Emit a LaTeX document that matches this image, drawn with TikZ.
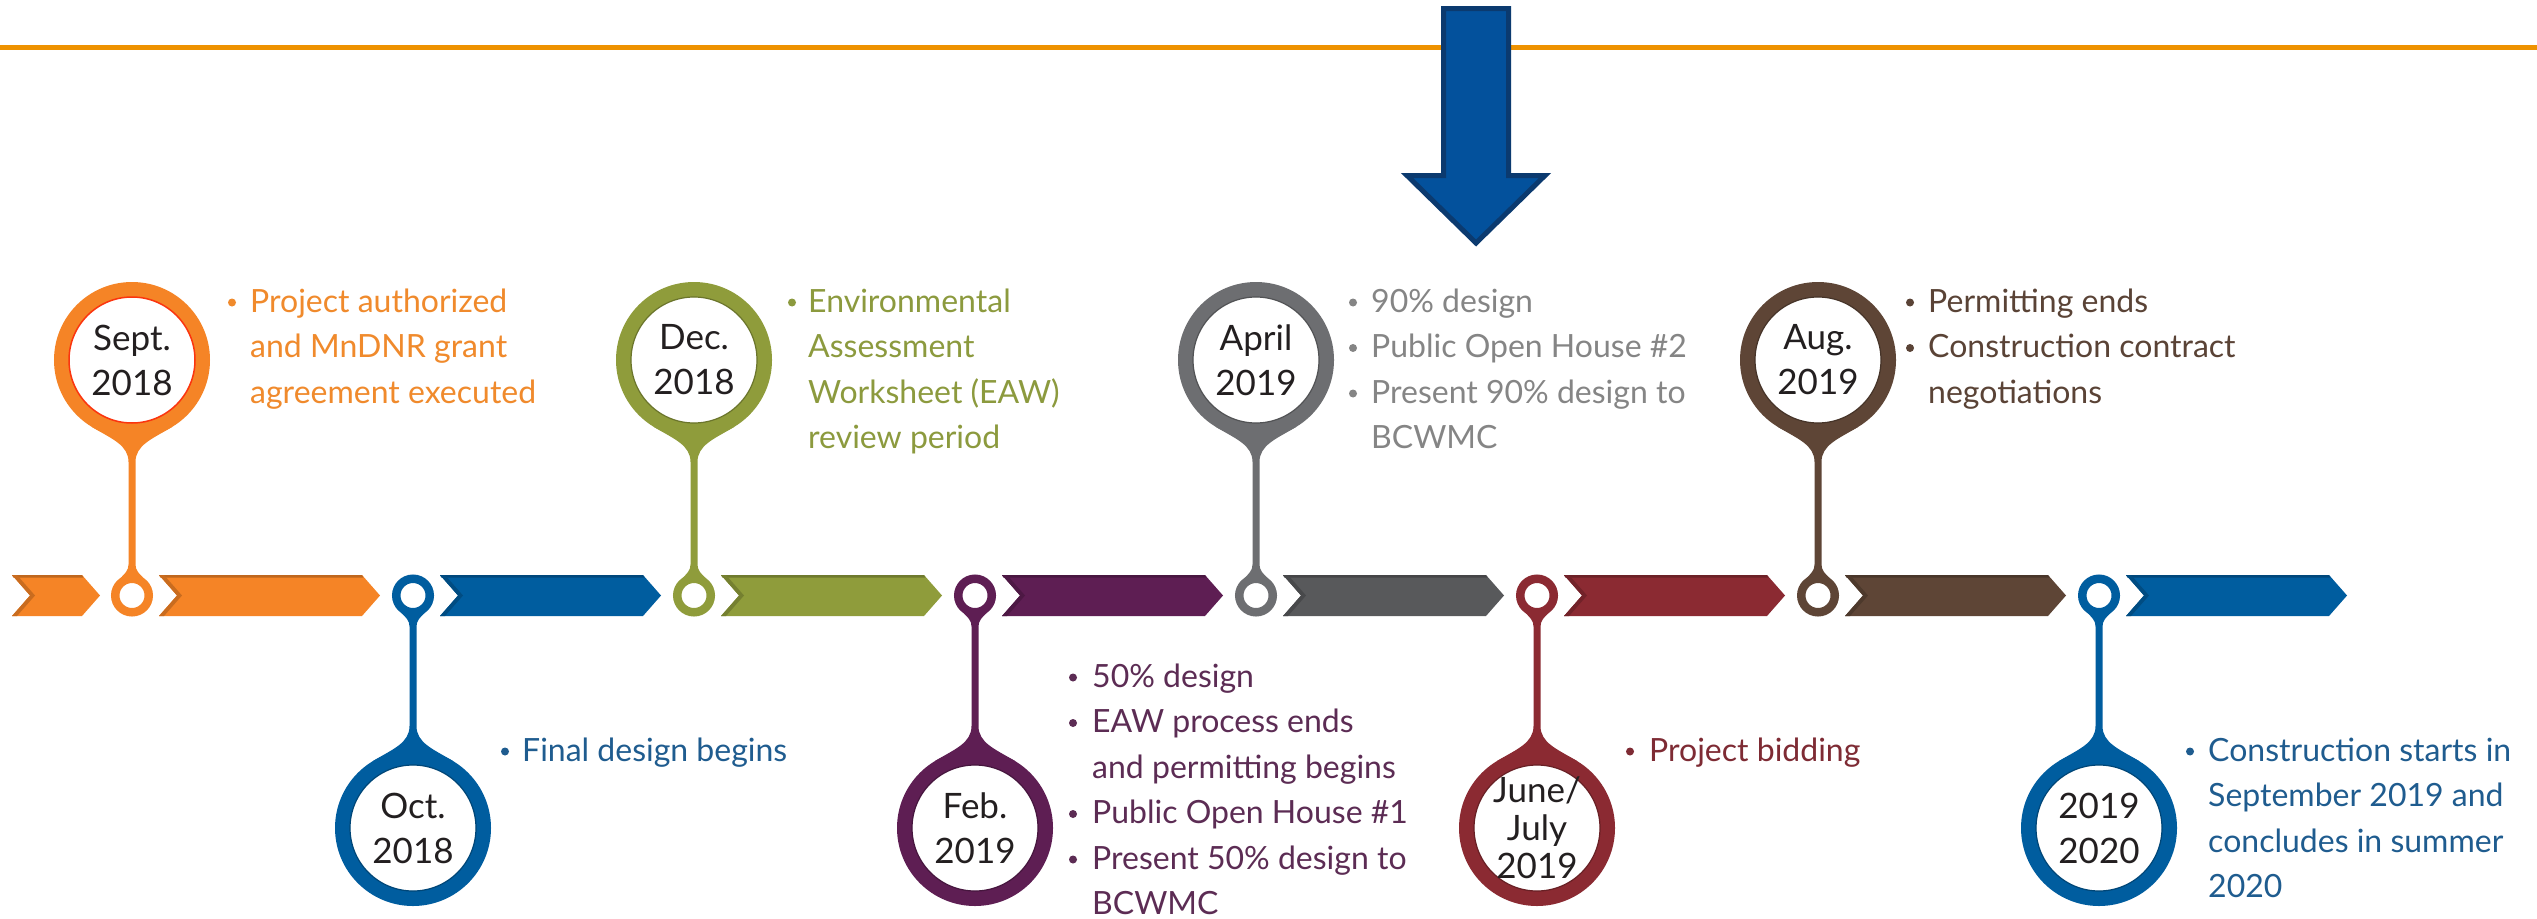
\documentclass[tikz,border=0pt]{standalone}
\usepackage{fontspec}
\setmainfont{Lato}
\usetikzlibrary{backgrounds,calc}
\definecolor{lineorange}{HTML}{EE9200}
\definecolor{arrowfill}{HTML}{03519C}
\definecolor{arrowedge}{HTML}{0B3A6F}
\definecolor{corange}{HTML}{F58426}
\definecolor{cblue}{HTML}{005D9F}
\definecolor{cgreen}{HTML}{8F9C3B}
\definecolor{cpurple}{HTML}{5E1E53}
\definecolor{cgray}{HTML}{6D6E71}
\definecolor{cgraybar}{HTML}{58595B}
\definecolor{cred}{HTML}{8B2A32}
\definecolor{cbrown}{HTML}{5E4536}
\definecolor{torange}{HTML}{F08A2C}
\definecolor{tblue}{HTML}{1F5C8F}
\definecolor{tgreen}{HTML}{8C9A3E}
\definecolor{tpurple}{HTML}{5C2C54}
\definecolor{tgray}{HTML}{858585}
\definecolor{tred}{HTML}{7E2B34}
\definecolor{tbrown}{HTML}{5A4336}
\definecolor{labelc}{HTML}{231F20}
% chevron: #1 left x, #2 tip x, #3 colour
\newcommand\chevbar[3]{%
  \fill[#3] (#1,575) -- ({#2-18},575) -- (#2,595.5) -- ({#2-18},616) -- (#1,616) -- ({#1+18},595.5) -- cycle;
  \fill[#3!78!black] (#1,575) -- ({#2-18},575) -- ({#2-16.6},577.5) -- ({#1+1.4},577.5) -- cycle;
  \fill[#3!82!black] (#1,575) -- ({#1+18},595.5) -- (#1,616) -- ({#1+5},616) -- ({#1+23},595.5) -- ({#1+5},575) -- cycle;
}
% pin stem: #1 big-circle anchor, #2 dot anchor, #3 colour, #4 direction sign
\newcommand\pinstem[4]{%
  \fill[#3] ($(#1)+(-40,{-11*(#4)})$) .. controls ($(#1)+(-20,{1*(#4)})$) and ($(#1)+(-3.5,{7*(#4)})$) .. ($(#1)+(-3.5,{24*(#4)})$)
   -- ($(#2)+(-3.5,{-10*(#4)})$) .. controls ($(#2)+(-3.5,{-4*(#4)})$) and ($(#2)+(-7,{-1*(#4)})$) .. ($(#2)+(-12,{4*(#4)})$)
   -- ($(#2)+(12,{4*(#4)})$) .. controls ($(#2)+(7,{-1*(#4)})$) and ($(#2)+(3.5,{-4*(#4)})$) .. ($(#2)+(3.5,{-10*(#4)})$)
   -- ($(#1)+(3.5,{24*(#4)})$) .. controls ($(#1)+(3.5,{7*(#4)})$) and ($(#1)+(20,{1*(#4)})$) .. ($(#1)+(40,{-11*(#4)})$) -- cycle;}
% bullet: #1 colour, #2 x, #3 baseline
\newcommand\bul[3]{\fill[#1] (#2,{#3-9.5}) circle[radius=4];}
\begin{document}
\begin{tikzpicture}[x=1pt,y=-1pt,
  desc/.style={anchor=base west,inner sep=0pt,font=\fontsize{32}{40}\selectfont},
  bigring/.style={circle,line width=15pt,minimum size=141pt,inner sep=0pt,fill=white},
  dotring/.style={circle,line width=8.5pt,minimum size=33.5pt,inner sep=0pt,fill=white},
  datelbl/.style={align=center,inner sep=0pt,text=labelc,font=\fontsize{35}{45}\selectfont},
]
\useasboundingbox (0,0) rectangle (2537,918);
\begin{pgfonlayer}{background}
\fill[white] (0,0) rectangle (2537,918);
\end{pgfonlayer}

% top rule and arrow
\draw[lineorange,line width=5pt] (0,47) -- (2537,47);
\draw[arrowedge,fill=arrowfill,line width=5pt,line join=miter]
  (1443.5,8.5) -- (1508.5,8.5) -- (1508.5,175.5) -- (1545,175.5) -- (1476,243) -- (1407,175.5) -- (1443.5,175.5) -- cycle;

% chevrons
\chevbar{12}{100}{corange}
\chevbar{159}{380}{corange}
\chevbar{440}{661}{cblue}
\chevbar{721}{942}{cgreen}
\chevbar{1002}{1223}{cpurple}
\chevbar{1283}{1504}{cgraybar}
\chevbar{1564}{1785}{cred}
\chevbar{1845}{2066}{cbrown}
\chevbar{2126}{2347}{cblue}

% pins: big rings
\node[bigring,draw=corange] (sept) at (132,360) {};
\node[bigring,draw=cblue]   (oct)  at (413,828) {};
\node[bigring,draw=cgreen]  (dec)  at (694,360) {};
\node[bigring,draw=cpurple] (feb)  at (975,828) {};
\node[bigring,draw=cgray]   (apr)  at (1256,360) {};
\node[bigring,draw=cred]    (june) at (1537,828) {};
\node[bigring,draw=cbrown]  (aug)  at (1818,360) {};
\node[bigring,draw=cblue]   (yr)   at (2099,828) {};
% inner edge shading
\draw[red!60!corange,line width=1.5pt] (sept.center) circle[radius=63];
\draw[cblue!75!black,line width=1.2pt] (oct.center) circle[radius=63];
\draw[cgreen!75!black,line width=1.2pt] (dec.center) circle[radius=63];
\draw[cpurple!75!black,line width=1.2pt] (feb.center) circle[radius=63];
\draw[cgray!75!black,line width=1.2pt] (apr.center) circle[radius=63];
\draw[cred!75!black,line width=1.2pt] (june.center) circle[radius=63];
\draw[cbrown!75!black,line width=1.2pt] (aug.center) circle[radius=63];
\draw[cblue!75!black,line width=1.2pt] (yr.center) circle[radius=63];
% small rings on the bar
\node[dotring,draw=corange] (sept-dot) at (132,595.5) {};
\node[dotring,draw=cblue]   (oct-dot)  at (413,595.5) {};
\node[dotring,draw=cgreen]  (dec-dot)  at (694,595.5) {};
\node[dotring,draw=cpurple] (feb-dot)  at (975,595.5) {};
\node[dotring,draw=cgray]   (apr-dot)  at (1256,595.5) {};
\node[dotring,draw=cred]    (june-dot) at (1537,595.5) {};
\node[dotring,draw=cbrown]  (aug-dot)  at (1818,595.5) {};
\node[dotring,draw=cblue]   (yr-dot)   at (2099,595.5) {};

% stems
\begin{pgfonlayer}{background}
\pinstem{sept.south}{sept-dot.north}{corange}{1}
\pinstem{dec.south}{dec-dot.north}{cgreen}{1}
\pinstem{apr.south}{apr-dot.north}{cgray}{1}
\pinstem{aug.south}{aug-dot.north}{cbrown}{1}
\pinstem{oct.north}{oct-dot.south}{cblue}{-1}
\pinstem{feb.north}{feb-dot.south}{cpurple}{-1}
\pinstem{june.north}{june-dot.south}{cred}{-1}
\pinstem{yr.north}{yr-dot.south}{cblue}{-1}
\end{pgfonlayer}

% date labels
\node[datelbl] (sept-date) at (sept.center) {Sept.\\2018};
\node[datelbl] (oct-date)  at (oct.center)  {Oct.\\2018};
\node[datelbl] (dec-date)  at (dec.center)  {Dec.\\2018};
\node[datelbl] (feb-date)  at (feb.center)  {Feb.\\2019};
\node[datelbl] (apr-date)  at (apr.center)  {April\\2019};
\node[datelbl,font=\fontsize{35}{38}\selectfont] (june-date) at (june.center) {June/\\July\\2019};
\node[datelbl] (aug-date)  at (aug.center)  {Aug.\\2019};
\node[datelbl] (yr-date)   at (yr.center)   {2019\\2020};

% Sept text
\bul{torange}{232}{312}
\node[desc,text=torange] (sept-l1) at (250,312) {Project authorized};
\node[desc,text=torange] (sept-l2) at (250,357.5) {and MnDNR grant};
\node[desc,text=torange] (sept-l3) at (250,403) {agreement executed};
% Oct text
\bul{tblue}{505}{761}
\node[desc,text=tblue] (oct-l1) at (522,761) {Final design begins};
% Dec text
\bul{tgreen}{792}{312}
\node[desc,text=tgreen] (dec-l1) at (808,312) {Environmental};
\node[desc,text=tgreen] (dec-l2) at (808,357.5) {Assessment};
\node[desc,text=tgreen] (dec-l3) at (808,403) {Worksheet (EAW)};
\node[desc,text=tgreen] (dec-l4) at (808,448.5) {review period};
% Feb text
\bul{tpurple}{1073}{687}
\bul{tpurple}{1073}{732.5}
\bul{tpurple}{1073}{823.5}
\bul{tpurple}{1073}{869}
\node[desc,text=tpurple] (feb-l1) at (1092,687) {50\% design};
\node[desc,text=tpurple] (feb-l2) at (1092,732.5) {EAW process ends};
\node[desc,text=tpurple] (feb-l3) at (1092,778) {and permitting begins};
\node[desc,text=tpurple] (feb-l4) at (1092,823.5) {Public Open House \#1};
\node[desc,text=tpurple] (feb-l5) at (1092,869) {Present 50\% design to};
\node[desc,text=tpurple] (feb-l6) at (1092,914.5) {BCWMC};
% April text
\bul{tgray}{1353}{312}
\bul{tgray}{1353}{357.5}
\bul{tgray}{1353}{403}
\node[desc,text=tgray] (apr-l1) at (1371,312) {90\% design};
\node[desc,text=tgray] (apr-l2) at (1371,357.5) {Public Open House \#2};
\node[desc,text=tgray] (apr-l3) at (1371,403) {Present 90\% design to};
\node[desc,text=tgray] (apr-l4) at (1371,448.5) {BCWMC};
% June text
\bul{tred}{1630}{761}
\node[desc,text=tred] (june-l1) at (1649,761) {Project bidding};
% Aug text
\bul{tbrown}{1910}{312}
\bul{tbrown}{1910}{357.5}
\node[desc,text=tbrown] (aug-l1) at (1928,312) {Permitting ends};
\node[desc,text=tbrown] (aug-l2) at (1928,357.5) {Construction contract};
\node[desc,text=tbrown] (aug-l3) at (1928,403) {negotiations};
% 2019-2020 text
\bul{tblue}{2190}{761}
\node[desc,text=tblue] (yr-l1) at (2208,761) {Construction starts in};
\node[desc,text=tblue] (yr-l2) at (2208,806.5) {September 2019 and};
\node[desc,text=tblue] (yr-l3) at (2208,852) {concludes in summer};
\node[desc,text=tblue] (yr-l4) at (2208,897.5) {2020};
\end{tikzpicture}
\end{document}
